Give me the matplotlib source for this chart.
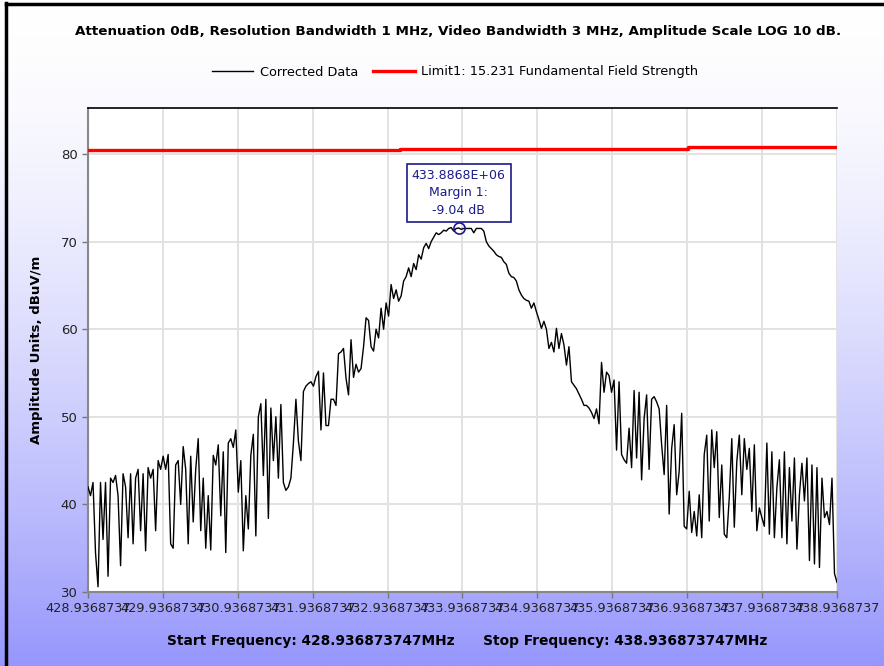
import numpy as np
import matplotlib
matplotlib.use("Agg")
import matplotlib.pyplot as plt
from matplotlib.lines import Line2D

start_freq = 428.9368737
stop_freq = 438.9368737
tick_freqs = [428.9368737 + i for i in range(11)]
tick_labels = ["%.7f" % f for f in tick_freqs]

# Corrected data (dBuV/m), evenly spaced over the span
amplitude = [
    42, 41, 42.5, 34.5, 30.6, 42.5, 36, 42.5, 31.8, 43, 42.5, 43.3,
    41, 33, 43.5, 42, 36.2, 43.5, 35.5, 43, 44, 37, 43.5, 34.7,
    44.2, 43, 44, 37, 45, 44, 45.5, 44, 45.7, 35.5, 35, 44.5,
    45, 40, 46.6, 44, 35.5, 45.5, 38, 44, 47.5, 37, 43, 35,
    41, 34.8, 45.6, 44.5, 46.8, 38.7, 46, 34.5, 47, 47.5, 46.5, 48.5,
    41.4, 45, 34.7, 41, 37.2, 45.6, 48, 36.4, 50, 51.5, 43.3, 52,
    38.4, 51, 45, 50, 43, 51.4, 42.5, 41.6, 42, 43, 47, 52,
    47.2, 45, 52.9, 53.5, 53.8, 54, 53.5, 54.6, 55.2, 48.5, 55, 49,
    49, 52, 52, 51.3, 57.2, 57.4, 57.8, 54.4, 52.5, 58.8, 54.5, 56,
    55.1, 55.5, 58, 61.3, 61, 58, 57.5, 60, 59, 62.4, 60, 63,
    61.5, 65.1, 63.5, 64.5, 63.2, 63.8, 65.5, 66, 67, 66, 67.5, 66.8,
    68.5, 68, 69.3, 69.8, 69.2, 70, 70.5, 71, 70.8, 71, 71.3, 71.2,
    71.5, 71.6, 71.2, 71.5, 71.55, 71.4, 71.5, 71.5, 71.5, 71.5, 71.0, 71.5,
    71.5, 71.5, 71.2, 70, 69.5, 69.2, 68.9, 68.5, 68.3, 68.2, 67.7, 67.4,
    66.4, 66, 65.9, 65.5, 64.5, 63.9, 63.5, 63.3, 63.2, 62.4, 63, 62,
    61.1, 60.1, 60.9, 60, 57.8, 58.5, 57.4, 60.1, 57.8, 59.5, 58.2, 55.9,
    58, 54, 53.6, 53.2, 52.6, 52, 51.3, 51.3, 51, 50.5, 49.8, 50.9,
    49.2, 56.2, 52.8, 55.1, 54.7, 52.8, 54.2, 46.2, 54, 45.7, 45.1, 44.7,
    48.7, 44.2, 53, 45.3, 52.8, 42.8, 49.8, 52.5, 44, 52, 52.3, 51.7,
    50.9, 46.8, 43.4, 51.3, 38.9, 46.4, 49.1, 41.1, 43.8, 50.4, 37.5, 37.2,
    41.5, 36.8, 39.2, 36.4, 41.1, 36.2, 45.7, 47.9, 38.1, 48.5, 44.2, 48.3,
    38.5, 44.5, 36.6, 36.2, 40.8, 47.5, 37.4, 44.9, 47.9, 41.1, 47.5, 44,
    46.4, 39.2, 46.8, 37, 39.6, 38.5, 37.5, 47, 36.6, 46, 36.2, 41.9,
    45.1, 36.2, 46, 35.5, 44.2, 38.1, 45.3, 34.9, 41.1, 44.7, 40.4, 45.3,
    33.6, 44.5, 33.2, 44.2, 32.8, 43, 38.5, 39.2, 37.7, 43, 32.1, 31.1,
]

limit_freqs = [428.9368737, 429.19, 433.10, 436.95, 438.9368737]
limit_vals = [80.4, 80.5, 80.6, 80.75, 80.75]

peak_freq = 433.8868
peak_val = 71.55
peak_text = "433.8868E+06\nMargin 1:\n-9.04 dB"

title = "Attenuation 0dB, Resolution Bandwidth 1 MHz, Video Bandwidth 3 MHz, Amplitude Scale LOG 10 dB."
ylabel = "Amplitude Units, dBuV/m"
footer = "Start Frequency: 428.936873747MHz      Stop Frequency: 438.936873747MHz"

W, H = 884, 666
fig = plt.figure(figsize=(W / 100, H / 100), dpi=100)

# gradient background
bg = fig.add_axes([0, 0, 1, 1], zorder=-10)
t = np.linspace(0, 1, 400) ** 1.6
top = np.array([1.0, 1.0, 1.0])
bot = np.array([150, 150, 252]) / 255.0
grad = top[None, :] * (1 - t[:, None]) + bot[None, :] * t[:, None]
bg.imshow(grad[:, None, :], aspect="auto", extent=[0, 1, 0, 1], origin="upper")
bg.set_xlim(0, 1)
bg.set_ylim(0, 1)
bg.axis("off")
# window frame lines (left and top)
bg.add_line(Line2D([5.5 / W, 5.5 / W], [0, 1 - 3 / H], color="black", lw=2.5))
bg.add_line(Line2D([5.5 / W, 1], [1 - 4 / H, 1 - 4 / H], color="black", lw=2.5))

ax = fig.add_axes([88 / W, 1 - 592 / H, (837 - 88) / W, (592 - 108) / H])
ax.set_facecolor("white")

freqs = np.linspace(start_freq, stop_freq, len(amplitude))
ax.plot(freqs, amplitude, color="black", lw=1.0, label="Corrected Data", zorder=3)
ax.step(limit_freqs, limit_vals, where="post", color="#ff0000", lw=2.4,
        label="Limit1: 15.231 Fundamental Field Strength", zorder=4)

ax.set_xlim(start_freq, stop_freq)
ax.set_ylim(30, 85.25)
ax.set_xticks(tick_freqs)
ax.set_xticklabels(tick_labels, fontsize=9.3, color="#222222")
ax.set_yticks([30, 40, 50, 60, 70, 80])
ax.set_yticklabels(["30", "40", "50", "60", "70", "80"], fontsize=9.5, color="#222222")
ax.grid(True, color="#e2e2e2", lw=1.4, zorder=0)
ax.set_axisbelow(True)
ax.tick_params(axis="both", direction="out", length=4, color="#777777", width=1)
ax.tick_params(axis="x", pad=3)
for s in ["left", "bottom"]:
    ax.spines[s].set_color("#888888")
    ax.spines[s].set_linewidth(1.5)
ax.spines["top"].set_color("black")
ax.spines["top"].set_linewidth(1.2)
ax.spines["right"].set_visible(False)

# peak marker and annotation
ax.plot([peak_freq], [peak_val], marker="o", ms=8, mfc="none", mec="#1a1a8c", mew=1.2, zorder=5)
ax.annotate(peak_text, xy=(peak_freq, peak_val), xytext=(0, 8), textcoords="offset points",
            ha="center", va="bottom", fontsize=9, color="#1a1a8c", linespacing=1.45,
            bbox=dict(boxstyle="square,pad=0.4", fc="white", ec="#1a1a8c", lw=1.2), zorder=6)

fig.text(458 / W, 1 - 32 / H, title, ha="center", va="center", fontsize=9.7, fontweight="bold")
fig.text(37 / W, 1 - 350 / H, ylabel, ha="center", va="center", rotation=90, fontsize=9.5,
         fontweight="bold")
fig.text(467 / W, 1 - 641 / H, footer, ha="center", va="center", fontsize=9.9, fontweight="bold")

leg = fig.legend(loc="center", bbox_to_anchor=(455 / W, 1 - 72 / H), ncol=2, frameon=False,
                 fontsize=9.3, handlelength=3.2, columnspacing=1.2, handletextpad=0.5)

fig.savefig("out.png", dpi=100)
